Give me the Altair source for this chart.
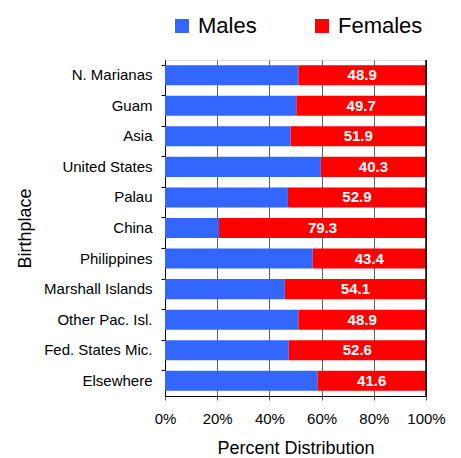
import altair as alt
import pandas as pd

places = ["N. Marianas", "Guam", "Asia", "United States", "Palau", "China",
          "Philippines", "Marshall Islands", "Other Pac. Isl.", "Fed. States Mic.", "Elsewhere"]
females = [48.9, 49.7, 51.9, 40.3, 52.9, 79.3, 43.4, 54.1, 48.9, 52.6, 41.6]
males = [round(100 - f, 1) for f in females]
series = ["Males", "Females"]
colors = ["#3366FF", "#FF0000"]

rows = []
for p, m, f in zip(places, males, females):
    rows.append({"place": p, "sex": "Males", "value": m, "start": 0, "end": m, "order": 0})
    rows.append({"place": p, "sex": "Females", "value": f, "start": m, "end": 100, "order": 1})
df = pd.DataFrame(rows)

FONT = "Liberation Sans"

y_enc = alt.Y("place:N", sort=places, title="Birthplace",
              scale=alt.Scale(paddingInner=0.345, paddingOuter=0.17),
              axis=alt.Axis(bandPosition=0, tickSize=4, tickColor="#000000", domainColor="#000000",
                            labelFontSize=15, labelFont=FONT, labelColor="#000000", labelPadding=9,
                            titleFontSize=18, titleFont=FONT, titleFontWeight="normal",
                            titleColor="#000000", titlePadding=9, grid=False))

x_enc = alt.X("start:Q", title="Percent Distribution",
              scale=alt.Scale(domain=[0, 100], nice=False),
              axis=alt.Axis(values=[0, 20, 40, 60, 80, 100], labelExpr="datum.value + '%'",
                            labelOverlap=False, labelFlush=False,
                            tickSize=4, tickColor="#555555", domainColor="#000000",
                            gridColor="#606060", gridOpacity=1, gridWidth=1,
                            labelFontSize=15, labelFont=FONT, labelColor="#000000", labelPadding=11,
                            titleFontSize=18, titleFont=FONT, titleFontWeight="normal",
                            titleColor="#000000", titlePadding=13))

bars = alt.Chart(df).mark_bar().encode(
    y=y_enc,
    x=x_enc,
    x2="end:Q",
    color=alt.Color("sex:N", scale=alt.Scale(domain=series, range=colors),
                    legend=alt.Legend(title=None, orient="none", legendX=6, legendY=-45,
                                      direction="horizontal", symbolType="square", symbolSize=196,
                                      symbolStrokeWidth=0, labelFontSize=22, labelFont=FONT,
                                      labelColor="#000000", columnPadding=54, symbolOffset=0,
                                      labelOffset=5)),
    order="order:Q",
)

labels = alt.Chart(df[df["sex"] == "Females"]).transform_calculate(
    mid="(datum.start + datum.end) / 2",
    txt="format(datum.value, '.1f')"
).mark_text(color="white", fontWeight="bold", fontSize=15, font=FONT, baseline="middle").encode(
    y=alt.Y("place:N", sort=places),
    x=alt.X("mid:Q"),
    text="txt:N",
)

edge = alt.Chart(pd.DataFrame({"v": [100]})).mark_rule(color="#000000", strokeWidth=1.5).encode(
    x="v:Q"
)

chart = alt.layer(bars, labels, edge).properties(
    width=261, height=336,
    autosize=alt.AutoSizeParams(type="none"),
    padding={"left": 157, "top": 52, "right": 27, "bottom": 60},
).configure_view(stroke=None).configure(font=FONT)

chart.save("out.html", embed_options={"renderer": "svg", "actions": False})
